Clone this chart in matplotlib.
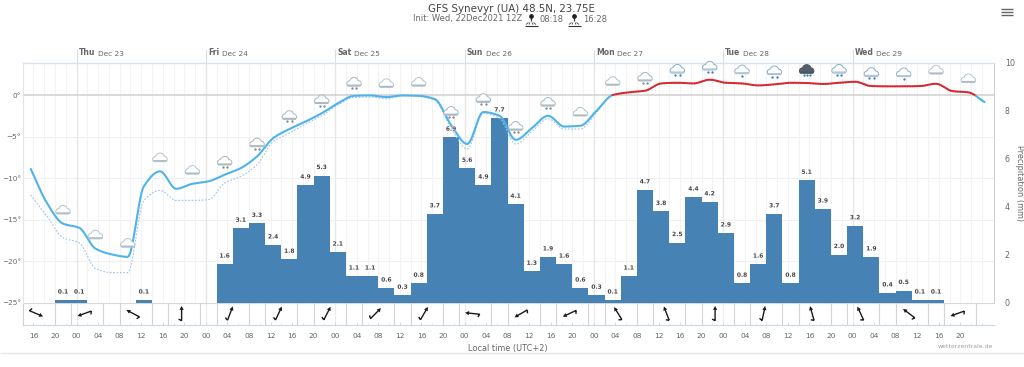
import numpy as np
import matplotlib
matplotlib.use("Agg")
import matplotlib.pyplot as plt
import matplotlib.patheffects as pe
from matplotlib.path import Path
from matplotlib.patches import PathPatch
from matplotlib.lines import Line2D
from matplotlib.transforms import Affine2D, ScaledTranslation, blended_transform_factory

plt.rcParams['font.family'] = ['DejaVu Sans']

# ---- data ----------------------------------------------------------
title = "GFS Synevyr (UA) 48.5N, 23.75E"
init_text = "Init: Wed, 22Dec2021 12Z"
sunrise, sunset = "08:18", "16:28"
days = [("Thu", "Dec 23"), ("Fri", "Dec 24"), ("Sat", "Dec 25"), ("Sun", "Dec 26"),
        ("Mon", "Dec 27"), ("Tue", "Dec 28"), ("Wed", "Dec 29")]
day_hours = [0, 24, 48, 72, 96, 120, 144]

temp_hours = [-8.5 + 3 * k for k in range(60)]
temp = [-8.9, -13.0, -15.5, -16.0, -18.5, -19.2, -19.5, -11.0, -9.2, -11.3, -10.7, -10.4,
        -9.6, -8.8, -7.4, -5.2, -4.1, -3.2, -2.2, -1.0, -0.1, -0.05, -0.25, -0.05, -0.1,
        -0.5, -3.6, -5.9, -2.05, -2.5, -5.4, -4.0, -2.5, -3.8, -3.7, -1.9, 0.0, 0.33,
        0.52, 1.4, 1.48, 1.4, 1.85, 1.48, 1.4, 1.16, 1.29, 1.48, 1.45, 1.33, 1.48, 1.6,
        1.08, 1.05, 1.05, 1.08, 1.36, 0.48, 0.33, -0.85]
dew = [-12.05, -14.6, -17.2, -17.8, -20.9, -21.4, -21.4, -12.7, -11.5, -12.7, -12.7, -12.6,
       -10.6, -9.8, -8.4, -5.6, -4.6, -3.5, -2.5, -1.2, -0.3, -0.25, -0.45, -0.1, -0.15,
       -0.65, -4.0, -6.5, -2.2, -2.8, -5.9, -4.4, -2.85, -4.1, -4.1, -2.1, -0.08, 0.25,
       0.45, 1.33, 1.4, 1.33, 1.78, 1.4, 1.33, 1.1, 1.22, 1.4, 1.38, 1.27, 1.4, 1.52,
       1.0, 0.98, 0.98, 1.0, 1.3, 0.4, 0.25, -0.95]

precip_hours = [-4, -1, 11] + [26 + 3 * k for k in range(45)]
precip = [0.1, 0.1, 0.1,
          1.6, 3.1, 3.3, 2.4, 1.8, 4.9, 5.3, 2.1, 1.1, 1.1, 0.6, 0.3, 0.8, 3.7, 6.9,
          5.6, 4.9, 7.7, 4.1, 1.3, 1.9, 1.6, 0.6, 0.3, 0.1, 1.1, 4.7, 3.8, 2.5, 4.4,
          4.2, 2.9, 0.8, 1.6, 3.7, 0.8, 5.1, 3.9, 2.0, 3.2, 1.9, 0.4, 0.5, 0.1, 0.1]

icon_index = list(range(2, 60, 2))
icon_kind = ['c', 'c', 'c', 'c', 'c', 's', 's', 's', 's', 's', 'c', 'c', 's', 's', 's', 's',
             'c', 'c', 's', 'r', 'r', 'o', 'r', 'd', 'r', 'r', 'o', 'c', 'c']

wind_hours = [-7.5 + 9 * k for k in range(20)]
wind_heading = [113, 250, 298, 0, 21, 25, 27, 45, 30, 276, 240, 245, 328, 339, 0, 12, 344,
                335, 307, 250]
wind_lines = sorted([-4 + 9 * k for k in range(20)] + [-1 + 9 * k for k in range(19)])

x_ticks = list(range(-8, 165, 4))
x_min, x_max = -9.93, 170.2

# ---- layout ---------------------------------------------------------
W, H = 1024, 367
L, R, T, B, WB = 23.0, 993.7, 63.0, 302.5, 324.5
fig = plt.figure(figsize=(W / 100, H / 100), dpi=100, facecolor='white')


def rect(y_top, y_bot):
    return [L / W, 1 - y_bot / H, (R - L) / W, (y_bot - y_top) / H]


def fx(x):
    return x / W


def fy(y):
    return 1 - y / H


GREY = '#666666'
FS = 5.2

ax_p = fig.add_axes(rect(T, B))
ax_t = ax_p.twinx()
ax_w = fig.add_axes(rect(B, WB))

# precipitation axis
ax_p.set_xlim(x_min, x_max)
ax_p.set_ylim(0, 10)
ax_p.yaxis.tick_right()
ax_p.yaxis.set_label_position('right')
ax_p.set_yticks([0, 2, 4, 6, 8, 10])
ax_p.tick_params(axis='y', length=0, pad=8, labelsize=FS + 0.5, labelcolor=GREY)
ax_p.tick_params(axis='x', length=0, labelbottom=False)
ax_p.set_xticks(np.arange(-8, 170, 2))
ax_p.grid(axis='x', color='#f3f3f3', lw=0.8)
ax_p.set_axisbelow(True)
for d in day_hours:
    ax_p.axvline(d, color='#e6e6e6', lw=0.9, zorder=0.6)
ax_p.bar(precip_hours, precip, width=3, align='edge', color='#4682b4', lw=0, zorder=2)
for s in ('top', 'left', 'bottom'):
    ax_p.spines[s].set_visible(False)
ax_p.spines['right'].set_color('#d0d0d0')
ax_p.spines['right'].set_linewidth(0.8)

# temperature axis
ax_t.patch.set_visible(False)
ax_t.set_xlim(x_min, x_max)
ax_t.set_ylim(-25, (95 - 63) / 8.3)
ax_t.yaxis.tick_left()
ax_t.set_yticks([0, -5, -10, -15, -20, -25])
ax_t.set_yticklabels(['0°', '\u22125°', '\u221210°', '\u221215°', '\u221220°', '\u221225°'])
ax_t.tick_params(axis='y', length=0, pad=1.5, labelsize=FS, labelcolor=GREY)
for s in ('right', 'bottom'):
    ax_t.spines[s].set_visible(False)
ax_t.spines['top'].set_color('#d8e2f2')
ax_t.spines['top'].set_linewidth(1.0)
ax_t.spines['left'].set_color('#dfe5ee')
ax_t.spines['left'].set_linewidth(0.8)
# horizontal grid of the temperature scale lies under the bars
h_tr = blended_transform_factory(ax_p.transAxes, ax_t.transData)
for v in [-5, -10, -15, -20]:
    ax_p.add_line(Line2D([0, 1], [v, v], color='#f0f0f0', lw=0.8, transform=h_tr, zorder=0.5))
ax_p.add_line(Line2D([0, 1], [0, 0], color='#cfcfcf', lw=1.1, transform=h_tr, zorder=1))
ax_p.set_zorder(1)
ax_t.set_zorder(2)


def smooth(x, y, n=16):
    """Monotone cubic curve through the read values, for the drawn spline."""
    x, y = np.asarray(x, float), np.asarray(y, float)
    d = np.diff(y) / np.diff(x)
    m = np.zeros_like(y)
    for i in range(1, len(y) - 1):
        if d[i - 1] * d[i] > 0:
            m[i] = 2 * d[i - 1] * d[i] / (d[i - 1] + d[i])
    m[0], m[-1] = d[0], d[-1]
    xs, ys = [], []
    for i in range(len(x) - 1):
        t = np.linspace(0, 1, n, endpoint=False)
        h = x[i + 1] - x[i]
        ys.append((2*t**3 - 3*t**2 + 1) * y[i] + (t**3 - 2*t**2 + t) * h * m[i]
                  + (-2*t**3 + 3*t**2) * y[i + 1] + (t**3 - t**2) * h * m[i + 1])
        xs.append(x[i] + t * h)
    return np.r_[np.concatenate(xs), x[-1]], np.r_[np.concatenate(ys), y[-1]]


xt, yt = smooth(temp_hours, temp)
xd, yd = smooth(temp_hours, dew)
ax_t.plot(xd, np.where(yd <= 0, yd, np.nan), color='#9cc4ea', lw=0.8, ls=(0, (1.5, 1.5)), zorder=3)
ax_t.plot(xt, np.where(yt <= 0.02, yt, np.nan), color='#4fb3ea', lw=1.5, zorder=4,
          solid_capstyle='round')
ax_t.plot(xt, np.where(yt >= 0, yt, np.nan), color='#e2252f', lw=1.4, zorder=4)
ax_t.plot(xd, np.where(yd >= 0, yd, np.nan), color='#b03040', lw=0.6, ls=(0, (1.5, 1.5)), zorder=5)

# value labels of the bars, above the curves
for h, v in zip(precip_hours, precip):
    ax_t.annotate(f"{v:.1f}", (h + 1.5, v), xycoords=ax_p.transData, xytext=(0, 5.8),
                  textcoords='offset points', ha='center', va='center', fontsize=4.2,
                  fontweight='bold', color='#444444', zorder=7,
                  path_effects=[pe.withStroke(linewidth=0.8, foreground='white')])

# weather icons
ang = np.linspace(0, 2 * np.pi, 90, endpoint=False)
circles = [(-4.2, -0.9, 3.0), (0.0, 1.0, 4.3), (4.2, -0.9, 3.0), (-1.8, -1.2, 2.8), (1.8, -1.2, 2.8)]
rad = []
for a in ang:
    dx, dy = np.cos(a), np.sin(a)
    r = 0.0
    for cx, cy, cr in circles:
        b = cx * dx + cy * dy
        disc = b * b - (cx * cx + cy * cy - cr * cr)
        if disc > 0:
            r = max(r, b + np.sqrt(disc))
    rad.append(r)
rad = np.array(rad)
cloud_xy = np.c_[rad * np.cos(ang), np.maximum(rad * np.sin(ang), -3.3)]
cloud = Path(np.r_[cloud_xy, cloud_xy[:1]], closed=True)
band = Path([(-6.3, -3.3), (6.3, -3.3), (6.9, -1.7), (-6.9, -1.7), (-6.3, -3.3)], closed=True)
temp_at = dict(zip(range(60), temp))
kinds = {
    'c': ('#ffffff', '#b4c4ce', '#aebbc3', None, 0),
    's': ('#ffffff', '#a6b8c4', '#aeb9c0', '#808a92', 2),
    'r': ('#ffffff', '#86aecb', '#b8c8d2', '#3f7fb0', 2),
    'o': ('#ffffff', '#94b6ce', '#b8c8d2', '#3f7fb0', 1),
    'd': ('#55606a', '#4a545c', '#4a545c', '#3f7fb0', 3),
}
for k, kind in zip(icon_index, icon_kind):
    fill, edge, bandc, dot, nd = kinds[kind]
    off = ScaledTranslation(temp_hours[k], temp_at[k], ax_t.transData)
    tr = Affine2D().translate(0, 13) + off
    ax_t.add_patch(PathPatch(cloud, fc=fill, ec=edge, lw=0.7, transform=tr, zorder=6, clip_on=False))
    ax_t.add_patch(PathPatch(band, fc=bandc, ec='none', transform=tr, zorder=6.1, clip_on=False))
    if nd:
        px = {1: [0.0], 2: [-2.2, 2.2], 3: [-3.0, 0.0, 3.0]}[nd]
        ax_t.scatter(px, [-5.3] * nd, s=2.8, color=dot, lw=0, transform=tr, zorder=6.2, clip_on=False)

# wind panel
ax_w.set_xlim(x_min, x_max)
ax_w.set_ylim(0, 1)
ax_w.set_yticks([])
ax_w.set_xticks(x_ticks)
ax_w.set_xticklabels([f"{h % 24:02d}" for h in x_ticks])
ax_w.set_xticks(np.arange(-8, 170, 2), minor=True)
ax_w.tick_params(axis='x', which='major', direction='in', length=2, width=0.6, color='#ccd6eb',
                 pad=6.0, labelsize=FS + 0.1, labelcolor=GREY)
ax_w.tick_params(axis='x', which='minor', direction='in', length=1.3, width=0.5, color='#ccd6eb')
for s in ('right', 'top'):
    ax_w.spines[s].set_visible(False)
ax_w.spines['bottom'].set_color('#ccd6eb')
ax_w.spines['bottom'].set_linewidth(0.8)
ax_w.spines['left'].set_color('#d0d0d0')
ax_w.spines['left'].set_linewidth(0.8)
ax_w.axhline(1, color='#d8d8d8', lw=0.8, zorder=1, clip_on=False)
for h in wind_lines:
    ax_w.axvline(h, color='#d4d4d4', lw=0.8, zorder=1)
for d in day_hours:
    ax_w.axvline(d, color='#ececec', lw=0.8, zorder=0.9)
arrow = Path([(0, -7.2), (0, 5), (-3, -5.6), (0, -7.2)],
             [Path.MOVETO, Path.LINETO, Path.MOVETO, Path.LINETO])
head = Path([(0, 7.6), (-2.1, 3.6), (2.1, 3.6), (0, 7.6)], closed=True)
for h, w in zip(wind_hours, wind_heading):
    tr = Affine2D().rotate_deg(-w) + ScaledTranslation(h, 0.5, ax_w.transData)
    ax_w.add_patch(PathPatch(arrow, fc='none', ec='#1a1a1a', lw=1.0, transform=tr, zorder=3))
    ax_w.add_patch(PathPatch(head, fc='#1a1a1a', ec='none', transform=tr, zorder=3))

# day labels and ticks above the plot
bl = blended_transform_factory(ax_t.transData, ax_t.transAxes)
for d, (wd, md) in zip(day_hours, days):
    ax_t.plot([d, d], [1, 1 + 13 / (B - T)], color='#dddddd', lw=0.8, transform=bl, clip_on=False, zorder=1)
    t1 = ax_t.annotate(wd, (d, 1), xycoords=bl, xytext=(1.4, 4.3), textcoords='offset points',
                       fontsize=FS + 0.3, fontweight='bold', color=GREY, ha='left', va='bottom',
                       annotation_clip=False)
    ax_t.annotate(md, xy=(1, 0), xycoords=t1, xytext=(2.0, 0), textcoords='offset points',
                  fontsize=FS + 0.1, color=GREY, ha='left', va='bottom', annotation_clip=False)

# titles and surrounding text
fig.text(fx(511), fy(8.5), title, ha='center', va='center', fontsize=7.4, color='#444444')
fig.text(fx(413), fy(19), init_text, ha='left', va='center', fontsize=6.0, color=GREY)
fig.text(fx(540), fy(19), sunrise, ha='left', va='center', fontsize=6.0, color=GREY)
fig.text(fx(583), fy(19), sunset, ha='left', va='center', fontsize=6.0, color=GREY)
fig.text(fx(508), fy(349), "Local time (UTC+2)", ha='center', va='center', fontsize=5.9, color=GREY)
fig.text(fx(993.5), fy(347), "wetterzentrale.de", ha='right', va='center', fontsize=4.4, color='#a0a0a0')
fig.text(fx(1019.5), fy(183), "Precipitation (mm)", rotation=270, ha='center', va='center',
         fontsize=5.9, color=GREY)


def fig_line(x0, y0, x1, y1, color, lw):
    fig.add_artist(Line2D([fx(x0), fx(x1)], [fy(y0), fy(y1)], color=color, lw=lw,
                          transform=fig.transFigure, solid_capstyle='butt'))


# sunrise / sunset signs in the subtitle
for cx in (531, 574):
    fig_line(cx - 6.5, 26, cx + 6.5, 26, '#333333', 0.8)
    fig_line(cx, 14, cx, 21, '#333333', 0.9)
    fig.add_artist(Line2D([fx(cx)], [fy(16)], marker='o', ms=2.4, color='#222222', lw=0,
                          transform=fig.transFigure))
    for dx, y0, x1, y1 in [(-5, 24.5, -2.5, 22.5), (5, 24.5, 2.5, 22.5), (-2, 24.5, -1, 22.5), (2, 24.5, 1, 22.5)]:
        fig_line(cx + dx, y0, cx + x1, y1, '#444444', 0.6)

# menu button
for y in (8.5, 11.7, 15):
    fig_line(1001, y, 1013, y, '#666666', 1.0)

# bottom frame line
fig_line(0, 353, W, 353, '#e6e6e6', 0.9)

fig.savefig("out.png", dpi=100, facecolor='white')
